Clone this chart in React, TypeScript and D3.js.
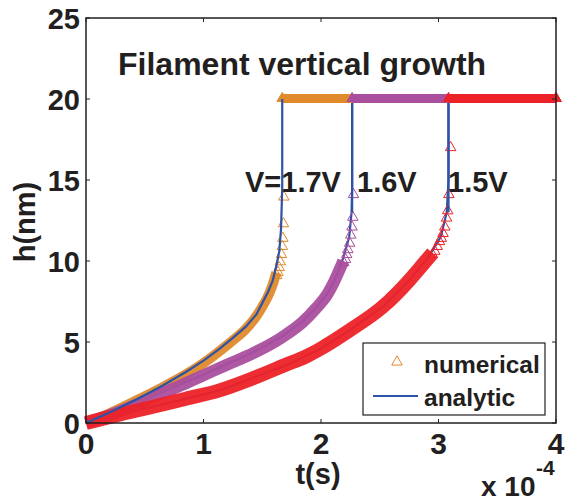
import React from 'react';
import * as d3 from 'd3';

// time values are in units of 1e-4 s
const xTicks = [0, 1, 2, 3, 4];
const yTicks = [0, 5, 10, 15, 20, 25];
const voltageLabels = ['V=1.7V', '1.6V', '1.5V'];
const legendLabels = ['numerical', 'analytic'];

// dense part of the numerical results (markers merge into a band)
const num17Band = [[0, 0], [0.2, 0.6], [0.43, 1.4], [0.65, 2.2], [0.85, 3.0], [1.0, 3.7], [1.13, 4.4], [1.25, 5.1], [1.36, 5.8], [1.45, 6.6], [1.51, 7.3], [1.56, 8.0], [1.6, 8.8], [1.62, 9.3]];
const num16Band = [[0, 0], [0.3, 0.75], [0.57, 1.6], [0.8, 2.3], [1.0, 2.95], [1.2, 3.6], [1.42, 4.3], [1.67, 5.3], [1.84, 6.2], [1.96, 7.1], [2.05, 7.9], [2.11, 8.7], [2.16, 9.5], [2.19, 10.0]];
const num15Band = [[0, 0], [0.3, 0.55], [0.57, 1.0], [0.85, 1.5], [1.13, 2.0], [1.4, 2.7], [1.7, 3.6], [1.87, 4.1], [2.0, 4.6], [2.24, 5.7], [2.53, 7.2], [2.75, 8.8], [2.88, 9.9], [2.95, 10.5]];

// sparse numerical markers near the jump
const num17Sparse = [[1.615, 9.1], [1.625, 9.3], [1.635, 9.6], [1.645, 9.95], [1.655, 10.4], [1.662, 10.9], [1.667, 11.4], [1.672, 12.3], [1.675, 13.95]];
const num16Sparse = [[2.185, 9.9], [2.2, 10.1], [2.21, 10.4], [2.22, 10.7], [2.235, 11.1], [2.245, 11.6], [2.255, 12.1], [2.262, 12.7], [2.268, 14.1]];
const num15Sparse = [[2.94, 10.4], [2.96, 10.6], [2.98, 10.9], [3.0, 11.2], [3.015, 11.4], [3.03, 11.7], [3.045, 12.1], [3.06, 12.65], [3.07, 13.1], [3.08, 14.1], [3.095, 17.0]];

// analytic curves
const ana17 = [[0, 0], [0.2, 0.65], [0.43, 1.45], [0.65, 2.3], [0.85, 3.15], [1.0, 3.85], [1.13, 4.55], [1.25, 5.25], [1.36, 5.95], [1.45, 6.7], [1.5, 7.4], [1.55, 8.1], [1.59, 8.8], [1.62, 9.7], [1.645, 10.6], [1.66, 12.0], [1.67, 14.5], [1.67, 20]];
const ana16 = [[0, 0], [0.3, 0.8], [0.57, 1.65], [1.0, 3.0], [1.42, 4.35], [1.67, 5.35], [1.84, 6.25], [1.96, 7.15], [2.05, 7.95], [2.1, 8.6], [2.15, 9.4], [2.19, 10.2], [2.24, 11.5], [2.26, 13.0], [2.265, 14.5], [2.265, 20]];
const ana15 = [[0, 0], [0.57, 1.0], [1.13, 2.0], [1.7, 3.55], [2.0, 4.6], [2.24, 5.7], [2.53, 7.2], [2.75, 8.8], [2.92, 10.3], [3.02, 11.5], [3.07, 13.0], [3.085, 15.0], [3.085, 20]];

// plateau at h = 20 nm after the jump
const plateauStart = [1.67, 2.265, 3.085];
const plateauEnd = 4;
const plateauH = 20;

const colors = ['#E08A2B', '#AA4E9E', '#ED2228'];
const bandWidths = [10, 12, 14];
const blue = '#2D52A6';
const ink = '#231F20';
const font = '"Liberation Sans", Arial, sans-serif';

export default function App() {
  const width = 569;
  const height = 503;
  const x = d3.scaleLinear().domain([0, 4]).range([86, 556]);
  const y = d3.scaleLinear().domain([0, 25]).range([423, 18]);

  const band = d3.line<number[]>().x(d => x(d[0])).y(d => y(d[1])).curve(d3.curveMonotoneX);
  const straight = d3.line<number[]>().x(d => x(d[0])).y(d => y(d[1]));
  const tri = d3.symbol().type(d3.symbolTriangle).size(48)();

  const bands = [num17Band, num16Band, num15Band];
  const sparse = [num17Sparse, num16Sparse, num15Sparse];
  const analytic = [ana17, ana16, ana15];
  const labelX = [245, 357, 448];

  return (
    <svg width={width} height={height} style={{ position: 'absolute', left: 0, top: 0 }} fontFamily={font} fontWeight="bold">
      <rect width={width} height={height} fill="#fff" />

      {/* analytic 1.6 / 1.5 under the markers */}
      {[1, 2].map(i => (
        <path key={'a' + i} d={straight(analytic[i]) || ''} fill="none" stroke={blue} strokeWidth={2.2} />
      ))}

      {[0, 1, 2].map(i => (
        <g key={'n' + i} stroke={colors[i]} fill="none">
          <path d={band(bands[i]) || ''} strokeWidth={bandWidths[i]} strokeLinecap="butt" strokeLinejoin="round" opacity={0.95} />
          {sparse[i].map((p, j) => (
            <path key={j} d={tri || ''} transform={`translate(${x(p[0]) + 1},${y(p[1])})`} strokeWidth={1} />
          ))}
          <line x1={x(plateauStart[i])} x2={x(plateauEnd)} y1={y(plateauH) - 0.5} y2={y(plateauH) - 0.5} strokeWidth={9} />
          {[plateauStart[i], plateauEnd].map((t, j) => (
            <path key={'p' + j} d={tri || ''} transform={`translate(${x(t)},${y(plateauH) - 0.5})`} fill={colors[i]} strokeWidth={1} />
          ))}
        </g>
      ))}

      {/* analytic 1.7 on top */}
      <path d={straight(ana17) || ''} fill="none" stroke={blue} strokeWidth={2.2} />
      {[1, 2].map(i => (
        <line key={'v' + i} x1={x(analytic[i][analytic[i].length - 2][0])} x2={x(analytic[i][analytic[i].length - 1][0])}
          y1={y(analytic[i][analytic[i].length - 3][1])} y2={y(plateauH) + 4} stroke={blue} strokeWidth={2.2} />
      ))}

      {/* axes frame */}
      <rect x={x(0)} y={y(25)} width={x(4) - x(0)} height={y(0) - y(25)} fill="none" stroke={ink} strokeWidth={1.5} />
      {xTicks.map(t => (
        <g key={'xt' + t}>
          <line x1={x(t)} x2={x(t)} y1={y(0)} y2={y(0) - 4} stroke={ink} strokeWidth={1} />
          <line x1={x(t)} x2={x(t)} y1={y(25)} y2={y(25) + 4} stroke={ink} strokeWidth={1} />
          <text x={x(t)} y={454} textAnchor="middle" fontSize={30} fill={ink}>{t}</text>
        </g>
      ))}
      {yTicks.map(v => (
        <g key={'yt' + v}>
          <line x1={x(0)} x2={x(0) + 4} y1={y(v)} y2={y(v)} stroke={ink} strokeWidth={1} />
          <line x1={x(4)} x2={x(4) - 4} y1={y(v)} y2={y(v)} stroke={ink} strokeWidth={1} />
          <text x={80} y={y(v) + 10.5} textAnchor="end" fontSize={29} fill={ink}>{v}</text>
        </g>
      ))}

      <text x={318} y={484} textAnchor="middle" fontSize={29} fill={ink}>t(s)</text>
      <text x={481} y={496} fontSize={28} fill={ink}>x 10</text>
      <text x={536} y={475} fontSize={21} fill={ink}>-4</text>
      <text transform="translate(35,222) rotate(-90)" textAnchor="middle" fontSize={29} fill={ink}>h(nm)</text>

      <text x={118} y={75} fontSize={32} fill={ink}>Filament vertical growth</text>

      {voltageLabels.map((s, i) => (
        <text key={s} x={labelX[i]} y={192} fontSize={29} fill={ink}>{s}</text>
      ))}

      {/* legend */}
      <rect x={363} y={343} width={182} height={72} fill="#fff" stroke={ink} strokeWidth={1.2} />
      <path d={tri || ''} transform="translate(397,362)" fill="none" stroke={colors[0]} strokeWidth={1} />
      <line x1={373} x2={418} y1={396} y2={396} stroke={blue} strokeWidth={2.2} />
      {legendLabels.map((s, i) => (
        <text key={s} x={424} y={373 + i * 33} fontSize={24.5} fill={ink}>{s}</text>
      ))}
    </svg>
  );
}
